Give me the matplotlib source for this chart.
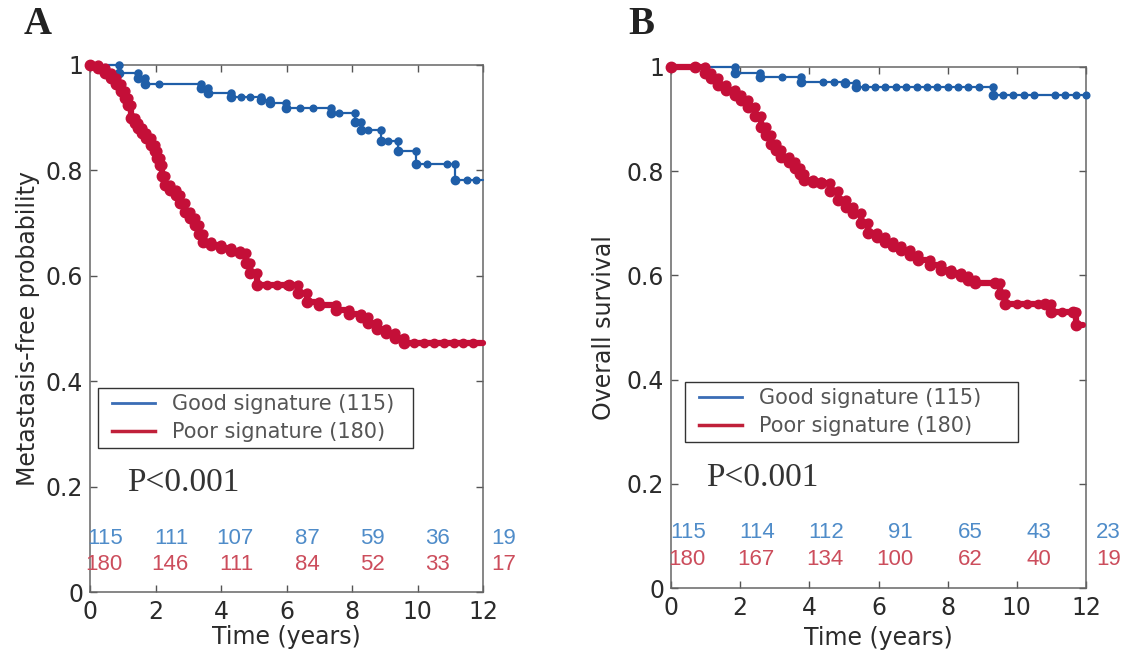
import numpy as np
import matplotlib
matplotlib.use("Agg")
import matplotlib.pyplot as plt
from matplotlib.lines import Line2D
from matplotlib.legend_handler import HandlerLine2D

# ---------------- data ----------------
# Panel A: metastasis-free probability
a_good_t = [0, 0.9, 1.47, 1.67, 3.4, 3.6, 4.32, 5.23, 5.49, 5.99, 7.37, 8.08, 8.29, 8.9, 9.4, 9.96, 11.14, 12]
a_good_s = [1, 0.984, 0.975, 0.963, 0.956, 0.946, 0.94, 0.934, 0.927, 0.919, 0.908, 0.892, 0.877, 0.855, 0.836, 0.813, 0.782, 0.782]
a_good_cens = [2.1, 4.6, 4.9, 6.4, 6.8, 7.6, 8.5, 9.1, 10.3, 10.9, 11.5, 11.8]

a_poor_t = [0, 0.25, 0.45, 0.65, 0.8, 0.96, 1.08, 1.16, 1.26, 1.36, 1.47, 1.6, 1.72, 1.85, 1.97, 2.05,
            2.13, 2.2, 2.28, 2.45, 2.64, 2.75, 2.89, 3.05, 3.2, 3.33, 3.45, 3.7, 4.01, 4.3, 4.57, 4.75,
            4.9, 5.1, 6.08, 6.35, 6.63, 7.0, 7.5, 7.9, 8.27, 8.48, 8.75, 9.03, 9.3, 9.58, 12]
a_poor_s = [1, 0.994, 0.985, 0.975, 0.963, 0.95, 0.937, 0.924, 0.899, 0.89, 0.88, 0.871, 0.861, 0.848, 0.836, 0.823,
            0.81, 0.79, 0.772, 0.763, 0.753, 0.738, 0.722, 0.709, 0.696, 0.68, 0.664, 0.658, 0.652, 0.648, 0.643, 0.625,
            0.605, 0.583, 0.583, 0.567, 0.551, 0.545, 0.535, 0.528, 0.522, 0.51, 0.5, 0.491, 0.482, 0.472, 0.472]
a_poor_cens = [5.4, 5.7, 6.0, 9.9, 10.2, 10.5, 10.8, 11.1, 11.4, 11.7]

# Panel B: overall survival
b_good_t = [0, 1.84, 2.56, 3.77, 5.02, 5.36, 9.31, 12]
b_good_s = [1, 0.989, 0.981, 0.972, 0.969, 0.961, 0.946, 0.946]
b_good_cens = [3.2, 4.4, 4.7, 5.6, 5.9, 6.2, 6.5, 6.8, 7.1, 7.4, 7.7, 8.0, 8.3, 8.6, 8.9,
               9.6, 9.9, 10.2, 10.5, 11.1, 11.4, 11.7, 12.0]

b_poor_t = [0, 0.68, 0.97, 1.15, 1.36, 1.6, 1.84, 2.03, 2.23, 2.42, 2.61, 2.75, 2.9, 3.05, 3.19, 3.4,
            3.58, 3.72, 3.86, 4.1, 4.35, 4.6, 4.83, 5.05, 5.26, 5.5, 5.7, 5.95, 6.18, 6.42, 6.66, 6.9,
            7.14, 7.5, 7.82, 8.1, 8.39, 8.6, 8.78, 9.36, 9.5, 9.65, 10.8, 11.0, 11.62, 11.72, 11.9]
b_poor_s = [1, 1, 0.988, 0.978, 0.965, 0.956, 0.946, 0.936, 0.924, 0.905, 0.885, 0.87, 0.853, 0.84, 0.828, 0.817,
            0.806, 0.795, 0.783, 0.78, 0.777, 0.762, 0.745, 0.732, 0.719, 0.7, 0.681, 0.673, 0.665, 0.657, 0.649, 0.64,
            0.63, 0.62, 0.611, 0.605, 0.598, 0.592, 0.585, 0.585, 0.565, 0.546, 0.546, 0.53, 0.53, 0.505, 0.505]
b_poor_cens = [10.0, 10.3, 10.6, 11.3]

# numbers at risk
risk_years = [1, 3, 5, 7, 9, 11, 13]
a_good_risk = [115, 111, 107, 87, 59, 36, 19]
a_poor_risk = [180, 146, 111, 84, 52, 33, 17]
b_good_risk = [115, 114, 112, 91, 65, 43, 23]
b_poor_risk = [180, 167, 134, 100, 62, 40, 19]

xticks = [0, 2, 4, 6, 8, 10, 12]
yticks = [0, 0.2, 0.4, 0.6, 0.8, 1]
yticklabels = ["0", "0.2", "0.4", "0.6", "0.8", "1"]
legend_labels = ["Good signature (115)", "Poor signature (180)"]

# ---------------- style ----------------
BLUE = "#1f5ea8"
RED = "#c40f38"
BLUE_TXT = "#4f8cc9"
RED_TXT = "#cc4d5c"
LEG_BLUE = "#3a6db5"
LEG_RED = "#c0203a"
ARIAL = ["Liberation Sans", "DejaVu Sans"]
WIDE = ["DejaVu Sans"]
SERIF = ["Liberation Serif", "DejaVu Serif"]
TXT = "#2b2b2b"

plt.rcParams["font.family"] = WIDE

fig = plt.figure(figsize=(11.24, 6.54), dpi=100)
W, H = 1124, 654


def rect(x0, x1, ytop, ybot):
    return [x0 / W, 1 - ybot / H, (x1 - x0) / W, (ybot - ytop) / H]


axA = fig.add_axes(rect(90, 483, 65, 592))
axB = fig.add_axes(rect(671, 1086, 67, 588))


def step_val(t, s, c):
    t = np.asarray(t)
    s = np.asarray(s)
    idx = np.searchsorted(t, np.asarray(c), side="right") - 1
    return s[np.clip(idx, 0, len(s) - 1)]


def draw_curve(ax, t, s, cens, color, lw, ms):
    ax.step(t, s, where="post", color=color, lw=lw, clip_on=False, zorder=3,
            solid_joinstyle="round", solid_capstyle="round")
    ax.plot(t[:-1], s[:-1], "o", color=color, ms=ms, mec=color, clip_on=False, zorder=4)
    ax.plot(t[1:-1], s[:-2], "o", color=color, ms=ms * 0.85, mec=color, clip_on=False, zorder=4)
    ax.plot(cens, step_val(t, s, cens), "o", color=color, ms=ms * 0.8, mec=color,
            clip_on=False, zorder=4)


def style_axes(ax, ylabel, xlab_y, ylab_x):
    ax.set_xlim(0, 12)
    ax.set_ylim(0, 1)
    ax.set_xticks(xticks)
    ax.set_xticklabels([str(v) for v in xticks])
    ax.set_yticks(yticks)
    ax.set_yticklabels(yticklabels)
    ax.tick_params(direction="in", length=5, width=1, color="#555555",
                   top=True, right=True, labelsize=17, labelcolor=TXT)
    ax.tick_params(axis="x", pad=6)
    ax.tick_params(axis="y", pad=5)
    for sp in ax.spines.values():
        sp.set_color("#666666")
        sp.set_linewidth(1.1)
    ax.text(0.5, xlab_y, "Time (years)", transform=ax.transAxes, ha="center", va="center",
            fontsize=17, color=TXT)
    ax.text(ylab_x, 0.5, ylabel, transform=ax.transAxes, ha="center", va="center",
            rotation=90, fontsize=17, color=TXT)


def risk_rows(ax, good, poor, yg, yp):
    for x, g, p in zip(risk_years, good, poor):
        ax.text(x, yg, str(g), ha="right", va="center", fontsize=16, family=ARIAL,
                color=BLUE_TXT, clip_on=False)
        ax.text(x, yp, str(p), ha="right", va="center", fontsize=16, family=ARIAL,
                color=RED_TXT, clip_on=False)


def add_legend(ax, box):
    handles = [Line2D([0], [0], color=LEG_BLUE, lw=2),
               Line2D([0], [0], color=LEG_RED, lw=2.5)]
    leg = ax.legend(handles, legend_labels, loc="upper left", bbox_to_anchor=box, mode="expand",
                    borderaxespad=0, frameon=True, fancybox=False, fontsize=15,
                    handlelength=2.45, handletextpad=0.82, borderpad=0.29, labelspacing=0.385,
                    handler_map={Line2D: HandlerLine2D(xpad=0.385)},
                    edgecolor="#333333", framealpha=1)
    leg.get_frame().set_linewidth(1.0)
    for txt in leg.get_texts():
        txt.set_color("#555555")
    return leg


# Panel A
draw_curve(axA, np.array(a_good_t), np.array(a_good_s), a_good_cens, BLUE, 1.6, 6)
draw_curve(axA, np.array(a_poor_t), np.array(a_poor_s), a_poor_cens, RED, 4.5, 7.5)
style_axes(axA, "Metastasis-free probability", -0.0854, -0.158)
risk_rows(axA, a_good_risk, a_poor_risk, 0.102, 0.053)
add_legend(axA, (0.0204, 0.0, 0.8015, 0.387))
axA.text(1.13, 0.207, "P<0.001", fontsize=24, family=SERIF, color="#333333", ha="left", va="center")

# Panel B
draw_curve(axB, np.array(b_good_t), np.array(b_good_s), b_good_cens, BLUE, 1.6, 6)
draw_curve(axB, np.array(b_poor_t), np.array(b_poor_s), b_poor_cens, RED, 4.5, 7.5)
style_axes(axB, "Overall survival", -0.096, -0.161)
risk_rows(axB, b_good_risk, b_poor_risk, 0.106, 0.054)
add_legend(axB, (0.0337, 0.0, 0.802, 0.395))
axB.text(1.01, 0.211, "P<0.001", fontsize=24, family=SERIF, color="#333333", ha="left", va="center")

# panel letters
fig.text(38 / W, 1 - 24 / H, "A", fontsize=28, fontweight="bold", family=SERIF,
         ha="center", va="center", color="#222222")
fig.text(641 / W, 1 - 25 / H, "B", fontsize=28, fontweight="bold", family=SERIF,
         ha="center", va="center", color="#222222")

fig.savefig("out.png", dpi=100)
